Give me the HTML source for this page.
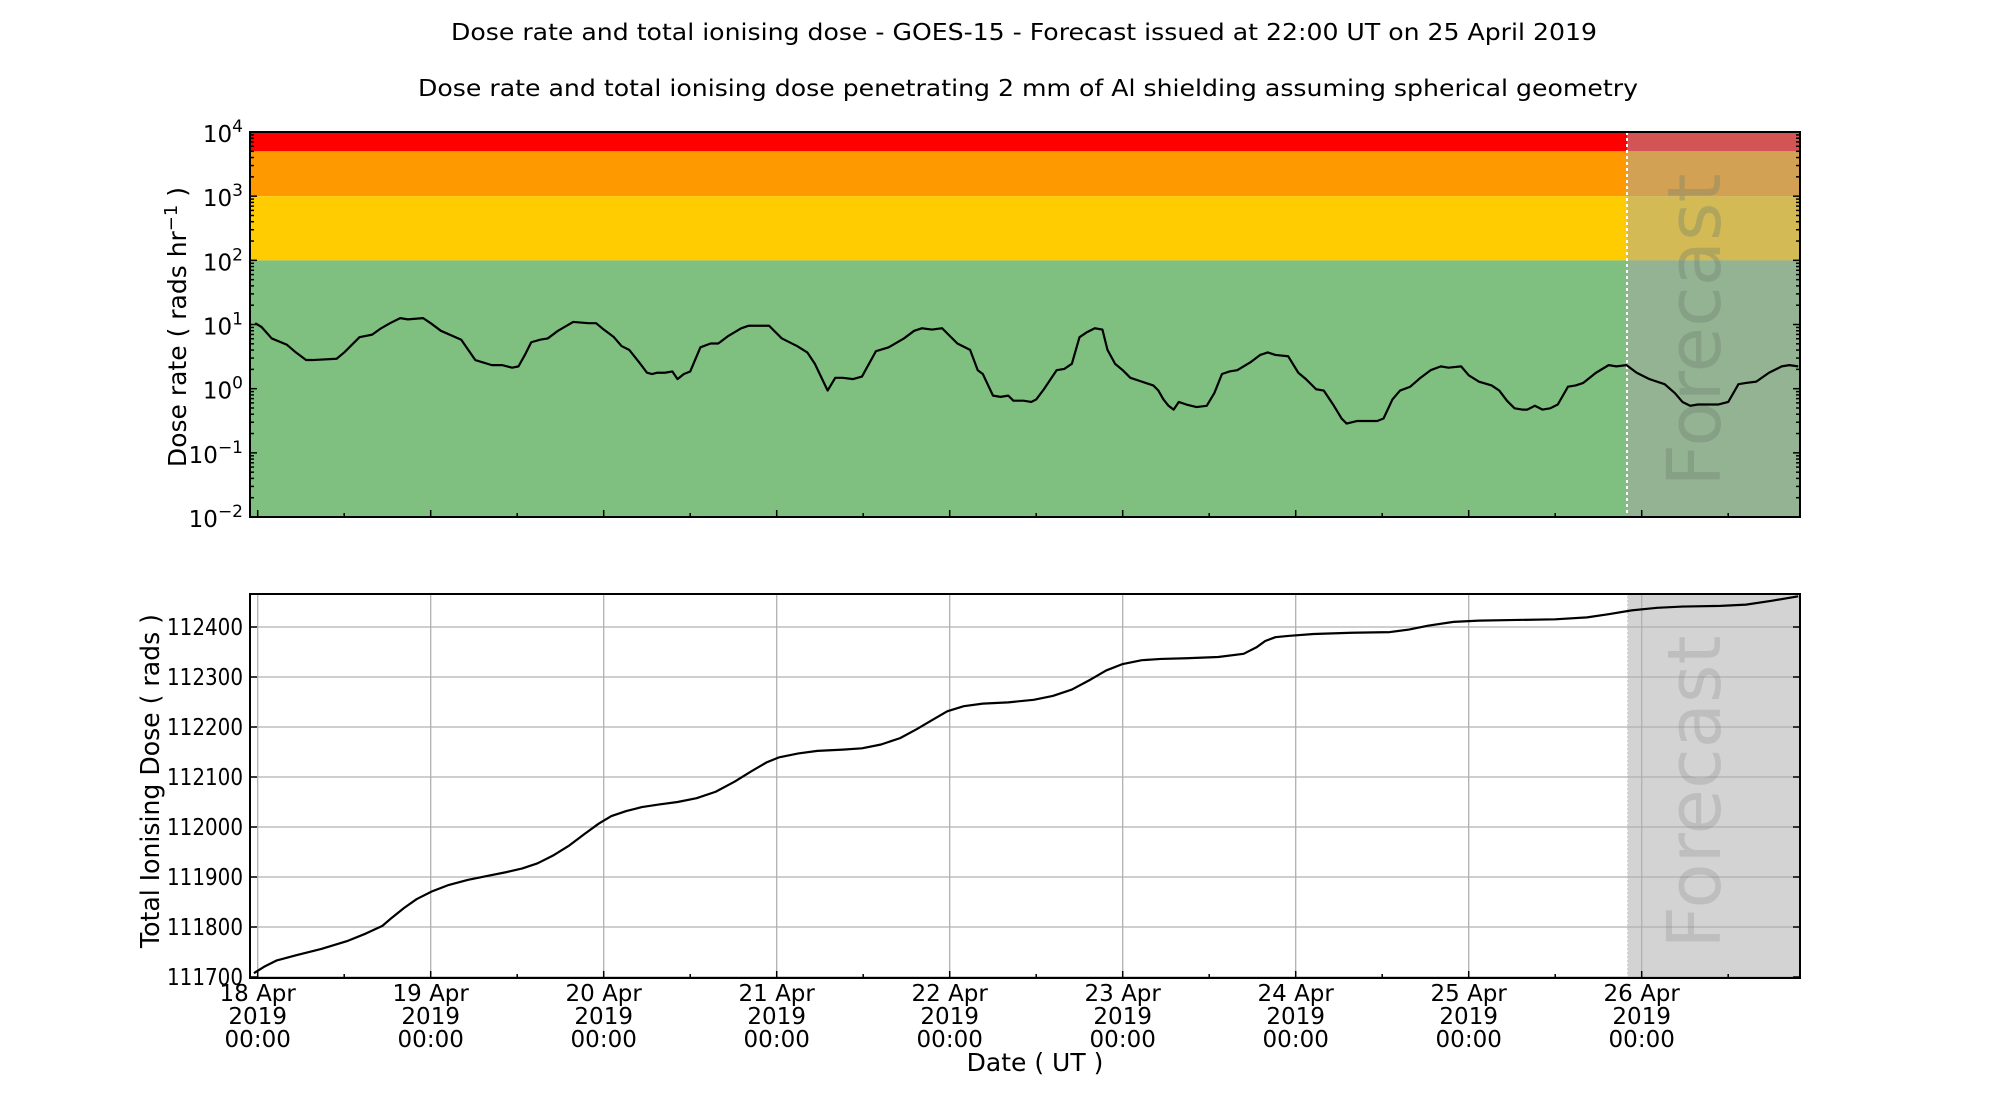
<!DOCTYPE html>
<html><head><meta charset="utf-8"><style>
html,body{margin:0;padding:0;background:#fff}
svg{display:block;font-family:"DejaVu Sans","Liberation Sans",sans-serif}
</style></head><body>
<svg id="s" width="2000" height="1100" viewBox="0 0 2000 1100" xmlns="http://www.w3.org/2000/svg">
<text x="1024" y="40" font-size="23" text-anchor="middle" textLength="1146" lengthAdjust="spacingAndGlyphs">Dose rate and total ionising dose - GOES-15 - Forecast issued at 22:00 UT on 25 April 2019</text>
<text x="1028" y="96" font-size="23" text-anchor="middle" textLength="1220" lengthAdjust="spacingAndGlyphs">Dose rate and total ionising dose penetrating 2 mm of Al shielding assuming spherical geometry</text>
<rect x="250" y="132" width="1550" height="19.3" fill="#ff0000"/>
<rect x="250" y="151.3" width="1550" height="44.9" fill="#fe9a00"/>
<rect x="250" y="196.2" width="1550" height="64.2" fill="#fecc00"/>
<rect x="250" y="260.4" width="1550" height="256.6" fill="#7fbf7f"/>
<rect x="1627" y="132" width="173" height="385" fill="rgb(168,168,168)" fill-opacity="0.5"/>
<line x1="1627" y1="132" x2="1627" y2="517" stroke="#fff" stroke-width="2" stroke-dasharray="3,3"/>
<text transform="translate(1720,330) rotate(-90)" font-size="74" text-anchor="middle" fill="#6f7f6f" fill-opacity="0.35">Forecast</text>
<g transform="translate(3.3,1.7) scale(1.2721,1.2707)">
<polyline fill="none" stroke="#000" stroke-width="2.2" vector-effect="non-scaling-stroke" stroke-linejoin="round" points="198,253 203,256 211,265 223,270 230,276 238,282 243,282 262,281 268,276 280,264 290,262 297,257 304,253 312,249 318,250 330,249 336,253 344,259 360,266 371,282 384,286 392,286 400,288 405,287 410,278 415,268 422,266 428,265 436,259 448,252 460,253 466,253 472,258 480,264 486,271 492,274 500,284 506,292 510,293 514,292 520,292 526,291 530,297 535,293 540,291 548,272 556,269 562,269 570,263 580,257 586,255 592,255 602,255 612,265 624,271 632,276 638,285 648,306 654,296 660,296 668,297 675,295 686,275 696,272 708,265 716,259 722,257 730,258 738,257 750,269 760,274 766,290 770,293 778,310 784,311 790,310 794,314 802,314 808,315 812,313 818,305 828,290 834,289 840,285 846,264 852,260 858,257 864,258 868,274 874,285 880,290 886,296 904,302 908,306 912,313 916,318 920,321 924,315 930,317 938,319 946,318 952,308 958,293 964,291 970,290 980,284 988,278 994,276 1000,278 1010,279 1018,292 1024,297 1032,305 1038,306 1046,318 1052,328 1056,332 1064,330 1070,330 1080,330 1085,328 1092,313 1098,306 1106,303 1114,296 1122,290 1130,287 1136,288 1146,287 1152,294 1160,299 1170,302 1176,306 1182,314 1188,320 1194,321 1198,321 1204,318 1210,321 1216,320 1222,317 1230,303 1236,302 1242,300 1252,292 1262,286 1268,287 1276,286 1284,292 1294,297 1306,301 1314,308 1320,315 1326,318 1332,317 1340,317 1348,317 1356,315 1364,301 1370,300 1378,299 1388,292 1398,287 1404,286 1411,287"/>
</g>
<rect x="250" y="132" width="1550" height="385" fill="none" stroke="#000" stroke-width="2"/>
<g id="topticks" stroke="#000" stroke-width="1.5"></g>
<g id="toplabels" font-size="23" text-anchor="end"></g>
<text transform="translate(186,327) rotate(-90)" font-size="25" text-anchor="middle">Dose rate ( rads hr<tspan dy="-9" font-size="18">−1</tspan><tspan dy="9"> )</tspan></text>
<rect x="1627" y="594" width="173" height="384" fill="#d3d3d3"/>
<line x1="1627" y1="594" x2="1627" y2="978" stroke="#fff" stroke-width="1.5" stroke-dasharray="2,2"/>
<g id="grid" stroke="#b0b0b0" stroke-width="1.3"></g>
<text transform="translate(1720,792) rotate(-90)" font-size="74" text-anchor="middle" fill="#808080" fill-opacity="0.25">Forecast</text>
<g transform="translate(3.3,-1.5) scale(1.2721,1.2774)">
<polyline fill="none" stroke="#000" stroke-width="2.2" vector-effect="non-scaling-stroke" stroke-linejoin="round" points="197,763 205,758 215,753 230,749 250,744 270,738 285,732 298,726 305,720 315,712 325,705 337,699 350,694 365,690 380,687 395,684 408,681 420,677 432,671 445,663 457,654 468,646 478,640 490,636 502,633 515,631 530,629 545,626 560,621 575,613 588,605 600,598 610,594 625,591 640,589 660,588 675,587 690,584 705,579 718,572 730,565 742,558 755,554 770,552 790,551 810,549 825,546 840,541 855,533 867,526 880,521 895,518 910,517 930,516.5 955,515.5 975,513 985,508 992,503 1000,500 1010,499 1030,497.5 1060,496.5 1090,496 1105,494 1120,491 1140,488 1160,487 1190,486.5 1220,486 1245,484.5 1262,482 1280,479 1300,477 1320,476 1350,475.5 1370,474.5 1390,471.5 1411,468"/>
</g>
<rect x="250" y="594" width="1550" height="384" fill="none" stroke="#000" stroke-width="2"/>
<g id="botticks" stroke="#000" stroke-width="1.5"></g>
<g id="botlabels" font-size="23"></g>
<text transform="translate(159,781) rotate(-90)" font-size="26" text-anchor="middle" textLength="334" lengthAdjust="spacingAndGlyphs">Total Ionising Dose ( rads )</text>
<text x="1035" y="1071" font-size="25" text-anchor="middle">Date ( UT )</text>
</svg>
<script>
var NS="http://www.w3.org/2000/svg";
function el(p,t,a,txt){var e=document.createElementNS(NS,t);for(var k in a)e.setAttribute(k,a[k]);if(txt!==undefined)e.textContent=txt;(typeof p=="string"?document.getElementById(p):p).appendChild(e);return e;}
function ln(p,x1,y1,x2,y2){el(p,"line",{x1:x1,y1:y1,x2:x2,y2:y2});}
var dec=64.17,top0=132;
function ly(l){return top0+(4-l)*dec;}
for(var d=-2;d<=4;d++){var y=ly(d);ln("topticks",250,y,257,y);ln("topticks",1800,y,1793,y);
 var t=el("toplabels","text",{x:243,y:y+10});
 el(t,"tspan",{},"10");el(t,"tspan",{dy:"-10","font-size":"17"},String(d).replace("-","−"));
 if(d<4)for(var k=2;k<10;k++){var yy=ly(d+Math.log10(k));ln("topticks",250,yy,254,yy);ln("topticks",1800,yy,1796,yy);}}
var x0=257.7,day=173;
var LA="spacingAndGlyphs";
for(var i=0;i<=17;i++){var x=x0+i*day/2;if(x>1800)break;var L=(i%2==0)?7:4;
 ln("topticks",x,517,x,517-L);ln("botticks",x,978,x,978-L);
 if(i%2==0){ln("grid",x,594,x,978);var dd=18+i/2;
  el("botlabels","text",{x:x,y:1001,"text-anchor":"middle"},dd+" Apr");
  el("botlabels","text",{x:x,y:1024,"text-anchor":"middle"},"2019");
  el("botlabels","text",{x:x,y:1047,"text-anchor":"middle"},"00:00");}}
for(var v=111700;v<=112400;v+=100){var y=977-(v-111700)/2;ln("grid",250,y,1800,y);
 ln("botticks",250,y,257,y);ln("botticks",1800,y,1793,y);
 el("botlabels","text",{x:243,y:y+8,"text-anchor":"end",textLength:76,lengthAdjust:LA},String(v));}
</script>
</body></html>
